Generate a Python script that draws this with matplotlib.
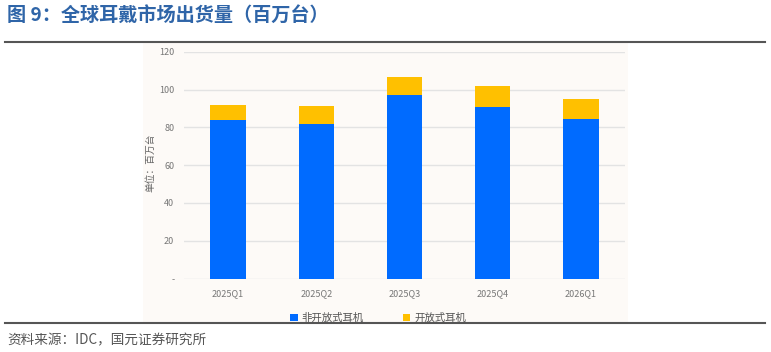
import matplotlib
matplotlib.use('Agg')
import matplotlib.pyplot as plt
import numpy as np
from matplotlib.patches import Rectangle
from matplotlib.lines import Line2D

plt.rcParams['font.family'] = ['Noto Sans CJK SC', 'DejaVu Sans']

quarters = ['2025Q1', '2025Q2', '2025Q3', '2025Q4', '2026Q1']
non_open = [84.0, 82.1, 97.2, 90.8, 84.6]
open_ear = [7.7, 9.2, 9.8, 11.3, 10.6]
yticks = [0, 20, 40, 60, 80, 100, 120]
ytick_labels = ['-', '20', '40', '60', '80', '100', '120']

blue = '#006bff'
yellow = '#ffc000'

fig = plt.figure(figsize=(7.71, 3.52), dpi=100)

# chart panel background
fig.patches.append(Rectangle((0.1855, 0.085), 0.629, 0.794, transform=fig.transFigure,
                             facecolor='#fdfaf7', edgecolor='none', zorder=-5))
# header / footer rules
fig.add_artist(Line2D([0.006, 0.992], [0.8807, 0.8807], color='#555555', lw=1.5))
fig.add_artist(Line2D([0.006, 0.992], [0.0824, 0.0824], color='#555555', lw=1.5))

fig.text(0.009, 0.955, '图 9：全球耳戴市场出货量（百万台）', color='#2f65a8',
         fontsize=13.8, fontweight='bold', va='center', ha='left')
fig.text(0.009, 0.033, '资料来源：IDC，国元证券研究所', color='#555555',
         fontsize=9.8, va='center', ha='left')

ax = fig.add_axes([0.2387, 0.2088, 0.572, 0.6435])
ax.set_facecolor('none')
x = np.arange(len(quarters))
w = 0.4
ax.bar(x, non_open, w, color=blue, label='非开放式耳机', zorder=3)
ax.bar(x, open_ear, w, bottom=non_open, color=yellow, label='开放式耳机', zorder=3)

ax.set_xlim(-0.5, len(quarters) - 0.5)
ax.set_ylim(0, 120)
ax.set_yticks(yticks)
ax.set_yticklabels(ytick_labels)
ax.set_xticks(x)
ax.set_xticklabels(quarters)
ax.tick_params(axis='both', length=0, labelsize=6.5, labelcolor='#777777')
ax.tick_params(axis='x', pad=8)
ax.tick_params(axis='y', pad=7)
ax.grid(axis='y', color='#e3e3e3', lw=1, zorder=0)
for s in ax.spines.values():
    s.set_visible(False)
ax.set_ylabel('单位：百万台', fontsize=7, color='#666666')
ax.yaxis.set_label_coords(-0.065, 0.51)

ax.legend(loc='upper center', bbox_to_anchor=(0.44, -0.11), ncol=2, frameon=False,
          fontsize=7.5, handlelength=0.7, handleheight=0.7, columnspacing=3.7,
          handletextpad=0.4, labelcolor='#555555')

fig.savefig('out.png', dpi=100)
